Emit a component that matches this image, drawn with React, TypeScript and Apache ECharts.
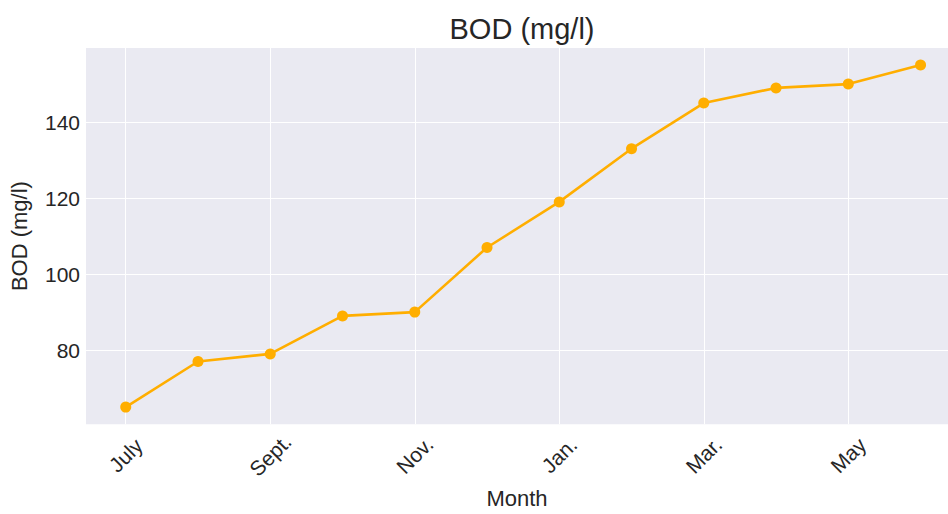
import React, { useEffect, useRef } from "react";
import * as echarts from "echarts";

const months = ["July", "Aug.", "Sept.", "Oct.", "Nov.", "Dec.", "Jan.", "Feb.", "Mar.", "Apr.", "May", "June"];
const bodValues = [65, 77, 79, 89, 90, 107, 119, 133, 145, 149, 150, 155];
const xTickIndices = [0, 2, 4, 6, 8, 10];
const yTicks = [80, 100, 120, 140];

const FONT = "'Liberation Sans', Arial, sans-serif";
const TEXT = "#262626";
const ORANGE = "#FFAE00";

export default function App() {
  const ref = useRef<HTMLDivElement>(null);
  useEffect(() => {
    if (!ref.current) return;
    const chart = echarts.init(ref.current, null, { renderer: "svg" });
    chart.setOption({
      animation: false,
      backgroundColor: "#ffffff",
      textStyle: { fontFamily: FONT },
      graphic: [
        {
          type: "text",
          x: 522,
          y: 29,
          style: {
            text: "BOD (mg/l)",
            font: `29px ${FONT}`,
            fill: TEXT,
            textAlign: "center",
            textVerticalAlign: "middle",
          },
        },
      ],
      grid: {
        left: 82,
        top: 48,
        right: 0,
        bottom: 86,
        show: true,
        backgroundColor: "#EAEAF2",
        borderWidth: 0,
        containLabel: false,
      },
      xAxis: {
        type: "value",
        min: -0.55,
        max: 11.38,
        name: "Month",
        nameLocation: "middle",
        nameGap: 62,
        nameTextStyle: { fontSize: 22, color: TEXT, fontFamily: FONT, verticalAlign: "top" },
        axisLine: { show: false },
        axisTick: { show: false, customValues: xTickIndices },
        axisLabel: {
          customValues: xTickIndices,
          formatter: (v: number) => months[Math.round(v)] ?? "",
          rotate: 45,
          align: "center",
          verticalAlign: "middle",
          margin: 31,
          fontSize: 21,
          color: TEXT,
          fontFamily: FONT,
        },
        splitLine: { show: true, lineStyle: { color: "#ffffff", width: 1 } },
      },
      yAxis: {
        type: "value",
        min: 60.5,
        max: 159.5,
        name: "BOD (mg/l)",
        nameLocation: "middle",
        nameGap: 56,
        nameTextStyle: { fontSize: 22, color: TEXT, fontFamily: FONT },
        axisLine: { show: false },
        axisTick: { show: false, customValues: yTicks },
        axisLabel: {
          customValues: yTicks,
          margin: 6,
          fontSize: 21,
          color: TEXT,
          fontFamily: FONT,
        },
        splitLine: { show: true, lineStyle: { color: "#ffffff", width: 1 } },
      },
      series: [
        {
          type: "line",
          data: bodValues.map((v, i) => [i, v]),
          symbol: "circle",
          symbolSize: 11,
          lineStyle: { color: ORANGE, width: 2.6 },
          itemStyle: { color: ORANGE },
          clip: false,
        },
      ],
    });
    return () => chart.dispose();
  }, []);
  return (
    <div
      ref={ref}
      style={{ position: "fixed", left: 0, top: 0, width: 948, height: 514 }}
    />
  );
}
